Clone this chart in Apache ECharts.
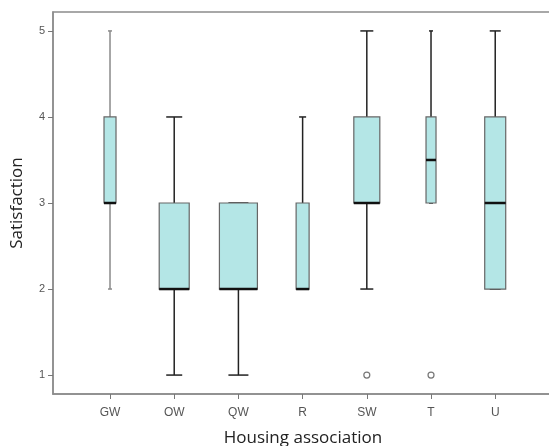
<!DOCTYPE html>
<html>
<head>
<meta charset="utf-8">
<script src="https://cdn.jsdelivr.net/npm/echarts@6/dist/echarts.min.js"></script>
<style>html,body{margin:0;padding:0;background:#fff;overflow:hidden;}#c{width:549px;height:446px;}</style>
</head>
<body>
<div id="c"></div>
<script>
// ---- data ----
const categories = ['GW', 'OW', 'QW', 'R', 'SW', 'T', 'U'];
const whiskerLow = [2, 1, 1, 2, 2, 3, 2];
const q1 = [3, 2, 2, 2, 3, 3, 2];
const median = [3, 2, 2, 2, 3, 3.5, 3];
const q3 = [4, 3, 3, 3, 4, 4, 4];
const whiskerHigh = [5, 4, 3, 4, 5, 5, 5];
const outliers = [[4, 1], [5, 1]]; // [category index, value]
const yTicks = [1, 2, 3, 4, 5];

// ---- styles ----
const boxWidths = [12, 30, 38, 13, 26, 10, 21];
const capWidths = [4, 16, 20, 7, 13, 4, 11];
const whiskerColors = ['#8a8a8a', '#222', '#222', '#222', '#222', '#222', '#222'];

const boxData = categories.map((c, i) => [i, whiskerLow[i], q1[i], median[i], q3[i], whiskerHigh[i]]);
const catIdx = categories.map((c, i) => i);

const chart = echarts.init(document.getElementById('c'), null, {renderer: 'canvas'});
const axisColor = '#8c8c8c';
chart.setOption({
  animation: false,
  grid: {left: 53, top: 12, right: -4, bottom: 52, outerBoundsMode: 'none', containLabel: false,
    show: true, borderColor: axisColor, borderWidth: 1.5, backgroundColor: 'transparent'},
  xAxis: {
    type: 'value', min: -0.888, max: 6.90,
    name: 'Housing association', nameLocation: 'middle', nameGap: 36,
    nameTextStyle: {fontFamily: 'Open Sans', fontSize: 17, color: '#222'},
    axisLine: {show: true, onZero: false, lineStyle: {color: axisColor, width: 1.5}},
    axisTick: {show: true, customValues: catIdx, length: 5, lineStyle: {color: '#777', width: 1}},
    axisLabel: {customValues: catIdx, formatter: v => categories[Math.round(v)] || '', margin: 13,
      fontFamily: 'Liberation Sans', fontSize: 12, color: '#555'},
    splitLine: {show: false}
  },
  yAxis: {
    type: 'value', min: 0.78, max: 5.22,
    name: 'Satisfaction', nameLocation: 'middle', nameGap: 27,
    nameTextStyle: {fontFamily: 'Open Sans', fontSize: 17, color: '#222'},
    axisLine: {show: true, onZero: false, lineStyle: {color: axisColor, width: 1.5}},
    axisTick: {show: true, customValues: yTicks, length: 5, lineStyle: {color: '#777', width: 1}},
    axisLabel: {customValues: yTicks, margin: 8, fontFamily: 'Liberation Sans', fontSize: 11, color: '#555'},
    splitLine: {show: false}
  },
  series: [
    {
      type: 'custom',
      data: boxData,
      encode: {x: 0, y: [1, 2, 3, 4, 5]},
      renderItem: function (params, api) {
        const i = params.dataIndex;
        const xi = api.value(0);
        const x = api.coord([xi, 0])[0];
        const yL = api.coord([xi, api.value(1)])[1];
        const yQ1 = api.coord([xi, api.value(2)])[1];
        const yM = api.coord([xi, api.value(3)])[1];
        const yQ3 = api.coord([xi, api.value(4)])[1];
        const yH = api.coord([xi, api.value(5)])[1];
        const bw = boxWidths[i], cw = capWidths[i], wc = whiskerColors[i];
        const ws = {stroke: wc, lineWidth: 1.5};
        return {
          type: 'group',
          children: [
            {type: 'line', shape: {x1: x, y1: yH, x2: x, y2: yQ3}, style: ws},
            {type: 'line', shape: {x1: x, y1: yQ1, x2: x, y2: yL}, style: ws},
            {type: 'line', shape: {x1: x - cw / 2, y1: yH, x2: x + cw / 2, y2: yH}, style: ws},
            {type: 'line', shape: {x1: x - cw / 2, y1: yL, x2: x + cw / 2, y2: yL}, style: ws},
            {type: 'rect', shape: {x: x - bw / 2, y: yQ3, width: bw, height: yQ1 - yQ3},
              style: {fill: '#b4e6e6', stroke: '#666', lineWidth: 1.2}},
            {type: 'line', shape: {x1: x - bw / 2, y1: yM, x2: x + bw / 2, y2: yM}, style: {stroke: '#111', lineWidth: 2.5}}
          ]
        };
      }
    },
    {
      type: 'scatter',
      data: outliers,
      symbol: 'circle', symbolSize: 6,
      itemStyle: {color: '#fff', borderColor: '#555', borderWidth: 1.2}
    }
  ]
});
</script>
</body>
</html>
